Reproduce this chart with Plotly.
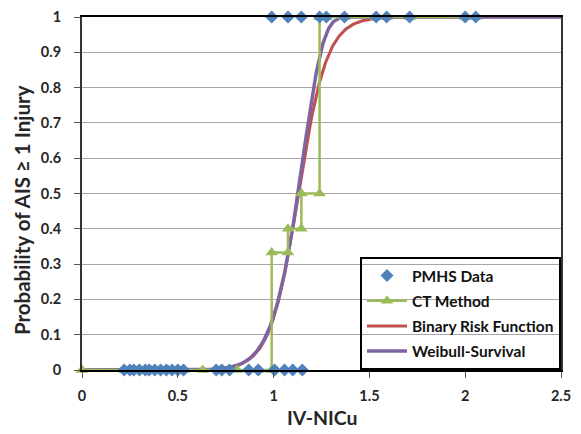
import numpy as np
import plotly.graph_objects as go

# ---- data ----
pmhs_x_neg = [0.22, 0.25, 0.27, 0.30, 0.33, 0.35, 0.38, 0.41, 0.44, 0.47, 0.50, 0.53,
              0.70, 0.73, 0.77, 0.87, 0.92, 1.005, 1.057, 1.10, 1.15]
pmhs_x_pos = [0.99, 1.075, 1.145, 1.24, 1.275, 1.37, 1.535, 1.59, 1.71, 2.0, 2.055]

ct_x = [0, 0.22, 0.29, 0.36, 0.45, 0.53, 0.63, 0.72, 0.81, 0.92, 0.99,
        0.99, 1.075, 1.075, 1.145, 1.145, 1.24, 1.24, 1.275, 1.37, 1.535, 1.59, 1.71, 2.0, 2.055]
ct_y = [0, 0, 0, 0, 0, 0, 0, 0, 0, 0, 0,
        0.333, 0.333, 0.4, 0.4, 0.5, 0.5, 1, 1, 1, 1, 1, 1, 1, 1]

# fitted risk-function parameters
logit_median = 1.13
logit_slope = 13.5
weib_scale = 1.162
weib_shape = 12.0

x_ticks = [0, 0.5, 1, 1.5, 2, 2.5]
x_tick_labels = ["0", "0.5", "1", "1.5", "2", "2.5"]

xc = np.linspace(0, 2.5, 501)
binary_y = 1.0 / (1.0 + np.exp(-logit_slope * (xc - logit_median)))
weibull_y = 1.0 - np.exp(-(xc / weib_scale) ** weib_shape)

pmhs_x = pmhs_x_neg + pmhs_x_pos
pmhs_y = [0] * len(pmhs_x_neg) + [1] * len(pmhs_x_pos)

BLUE = "#4F81BD"
GREEN = "#9BBB59"
RED = "#C0504D"
PURPLE = "#8064A2"
FONT = "Lato"
TXT = "#262626"

fig = go.Figure()
fig.add_trace(go.Scatter(x=xc, y=binary_y, mode="lines", name="Binary Risk Function",
                         line=dict(color=RED, width=3), legendgroup="c", legendrank=3,
                         cliponaxis=False))
fig.add_trace(go.Scatter(x=xc, y=weibull_y, mode="lines", name="Weibull-Survival",
                         line=dict(color=PURPLE, width=3.5), legendgroup="d", legendrank=4,
                         cliponaxis=False))
fig.add_trace(go.Scatter(x=ct_x, y=ct_y, mode="lines+markers", name="CT Method",
                         line=dict(color=GREEN, width=2.5),
                         marker=dict(symbol="triangle-up", size=11, color=GREEN),
                         legendgroup="b", legendrank=2, cliponaxis=False))
fig.add_trace(go.Scatter(x=pmhs_x, y=pmhs_y, mode="markers", name="PMHS Data",
                         marker=dict(symbol="diamond", size=10, color=BLUE),
                         legendgroup="a", legendrank=1, cliponaxis=False))

L, R, T, B = 82, 20, 8, 64
W, H = 581, 434
plot_w = W - L - R
plot_h = H - T - B

fig.update_layout(
    width=W, height=H,
    margin=dict(l=L, r=R, t=T, b=B),
    paper_bgcolor="white", plot_bgcolor="white",
    font=dict(family=FONT, size=14.5, color=TXT, weight="bold"),
    legend=dict(x=(360 - L) / plot_w, y=0, xanchor="left", yanchor="bottom",
                bgcolor="rgba(0,0,0,0)", bordercolor="black", borderwidth=2,
                font=dict(family=FONT, size=15.5, color="#111", weight="bold"),
                traceorder="grouped", tracegroupgap=2, itemwidth=40),
    xaxis=dict(range=[0, 2.5], tickvals=x_ticks, ticktext=x_tick_labels,
               showgrid=False, zeroline=False,
               showline=True, linecolor="black", linewidth=2, mirror=True,
               ticks="outside", ticklen=6, tickcolor="#555", tickwidth=1,
               ticklabelstandoff=6),
    yaxis=dict(range=[0, 1], dtick=0.1, showgrid=True, gridcolor="#A6A6A6", gridwidth=1,
               zeroline=False,
               showline=True, linecolor="#333", linewidth=2, mirror=True,
               ticks="outside", ticklen=6, tickcolor="#555", tickwidth=1,
               ticklabelstandoff=10),
    annotations=[
        dict(text="IV-NICu", xref="paper", yref="paper",
             x=(322 - L) / plot_w, y=-(419 - (H - B)) / plot_h,
             xanchor="center", yanchor="middle", showarrow=False,
             font=dict(family=FONT, size=19.5, color=TXT, weight="bold")),
        dict(text="Probability of AIS ≥ 1 Injury", xref="paper", yref="paper",
             x=-(L - 22) / plot_w, y=((H - B) - 206) / plot_h, textangle=-90,
             xanchor="center", yanchor="middle", showarrow=False,
             font=dict(family=FONT, size=20.5, color=TXT, weight="bold")),
    ],
)

fig.write_html("out.html", config={"displayModeBar": False},
               post_script="document.body.style.margin='0';")
